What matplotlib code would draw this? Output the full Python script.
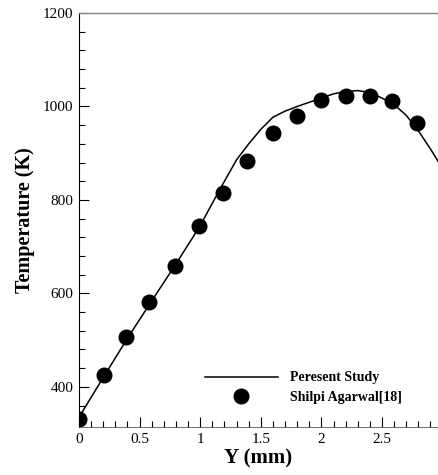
"""
Temperature profile along Y: present study vs. Shilpi Agarwal [18]
"""

import matplotlib
matplotlib.use("Agg")
import matplotlib.pyplot as plt
from matplotlib.ticker import MultipleLocator

matplotlib.rcParams['font.family'] = ['Liberation Serif', 'DejaVu Serif']

# ==================== 数据 ====================
# 本文计算结果（曲线）
y_line = [0.0, 0.2, 0.4, 0.6, 0.8, 1.0, 1.1, 1.2, 1.3, 1.4, 1.5, 1.6, 1.7,
          1.8, 1.9, 2.0, 2.1, 2.2, 2.3, 2.4, 2.5, 2.6, 2.7, 2.8, 2.9, 3.0]
t_line = [335, 420, 504, 584, 663, 745, 793, 840, 886, 920, 951, 977, 990,
          1000, 1009, 1018, 1027, 1032, 1034, 1030, 1018, 1004, 981, 948, 909, 867]

# 文献数据（圆点）
y_ref = [0.0, 0.21, 0.39, 0.58, 0.79, 0.99, 1.19, 1.39, 1.60, 1.80,
         2.00, 2.20, 2.40, 2.58, 2.79]
t_ref = [331, 426, 506, 581, 659, 744, 814, 884, 943, 980,
         1014, 1023, 1023, 1011, 964]

line_label = 'Peresent Study'
ref_label = 'Shilpi Agarwal[18]'

# ==================== 绘图 ====================
fig = plt.figure(figsize=(4.38, 4.75), dpi=100)
ax = fig.add_axes([0.1804, 0.101, 0.8196, 0.8716])

ax.plot(y_line, t_line, '-', color='black', linewidth=1.1, label=line_label)
ax.plot(y_ref, t_ref, 'o', color='black', markersize=10.5, linestyle='none',
        label=ref_label)

ax.set_xlim(0, 2.962)
ax.set_ylim(314, 1200)

ax.xaxis.set_major_locator(MultipleLocator(0.5))
ax.xaxis.set_minor_locator(MultipleLocator(0.1))
ax.yaxis.set_major_locator(MultipleLocator(200))
ax.yaxis.set_minor_locator(MultipleLocator(40))
ax.set_xticks([0, 0.5, 1, 1.5, 2, 2.5])
ax.set_xticklabels(['0', '0.5', '1', '1.5', '2', '2.5'])

ax.tick_params(which='both', direction='in', top=False, right=False,
               labelsize=11, width=0.8, pad=4)
ax.tick_params(which='major', length=7)
ax.tick_params(which='minor', length=4)

ax.spines['right'].set_visible(False)
ax.spines['top'].set_color('#888888')
ax.spines['top'].set_linewidth(1.0)
ax.spines['left'].set_linewidth(0.8)
ax.spines['bottom'].set_linewidth(0.6)
ax.spines['bottom'].set_color('#555555')

ax.set_xlabel('Y (mm)', fontsize=15, fontweight='bold', labelpad=2)
ax.set_ylabel('Temperature (K)', fontsize=14.5, fontweight='bold', labelpad=6)

leg = ax.legend(loc='lower left', bbox_to_anchor=(0.323, 0.033),
                frameon=False, prop={'weight': 'bold', 'size': 10},
                handlelength=5.25, handletextpad=0.86, labelspacing=0.45,
                borderpad=0.2)

plt.savefig('out.png', dpi=100)
plt.close()
